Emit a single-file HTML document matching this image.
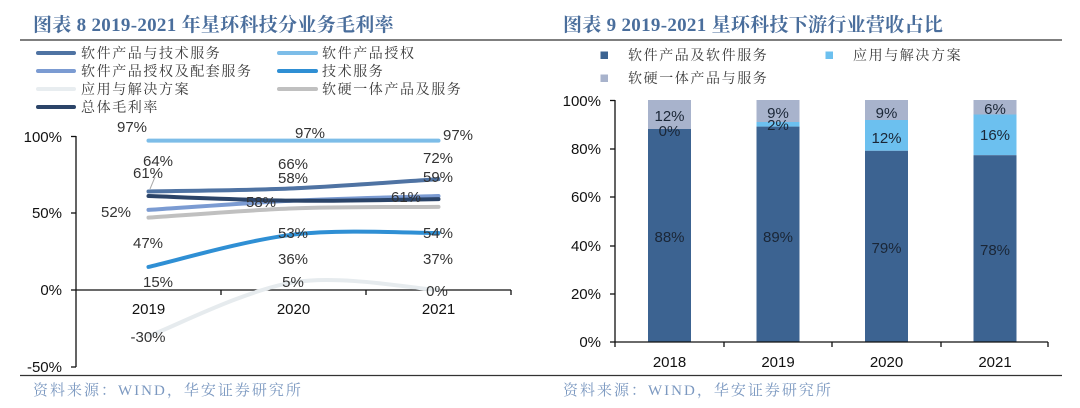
<!DOCTYPE html>
<html><head><meta charset="utf-8">
<style>
html,body{margin:0;padding:0;background:#fff;}
svg{display:block;}
.t{font-family:"Liberation Serif","Noto Serif CJK SC",serif;font-size:19px;font-weight:bold;fill:#4a6e9c;letter-spacing:0.3px;}
.lg{font-family:"Liberation Serif","Noto Serif CJK SC",serif;font-size:14px;fill:#3a3a3a;letter-spacing:1.6px;}
.src{font-family:"Liberation Serif","Noto Serif CJK SC",serif;font-size:15px;fill:#7b98c0;letter-spacing:2px;}
.ax{font-family:"Liberation Sans",Arial,sans-serif;font-size:15px;fill:#111;}
.dl{font-family:"Liberation Sans",Arial,sans-serif;font-size:15px;fill:#333;}
.bl{font-family:"Liberation Sans",Arial,sans-serif;font-size:15px;fill:#1a2636;}
</style></head>
<body>
<svg width="1080" height="408" viewBox="0 0 1080 408" xmlns="http://www.w3.org/2000/svg">
<!-- LEFT PANEL -->
<text class="t" x="33" y="31">图表 8 2019-2021 年星环科技分业务毛利率</text>
<line x1="20" y1="40" x2="540" y2="40" stroke="#555" stroke-width="1.5"/>
<!-- legend -->
<g stroke-width="4" stroke-linecap="round">
<line x1="38" y1="53" x2="74" y2="53" stroke="#4f73a3"/>
<line x1="279" y1="53" x2="316" y2="53" stroke="#7dbde8"/>
<line x1="38" y1="71" x2="74" y2="71" stroke="#7b9bd2"/>
<line x1="279" y1="71" x2="316" y2="71" stroke="#2f8fd4"/>
<line x1="38" y1="89" x2="74" y2="89" stroke="#e8edf0"/>
<line x1="279" y1="89" x2="316" y2="89" stroke="#c0c0c0"/>
<line x1="38" y1="107" x2="74" y2="107" stroke="#2b4468"/>
</g>
<text class="lg" x="81" y="58">软件产品与技术服务</text>
<text class="lg" x="322" y="58">软件产品授权</text>
<text class="lg" x="81" y="76">软件产品授权及配套服务</text>
<text class="lg" x="322" y="76">技术服务</text>
<text class="lg" x="81" y="94">应用与解决方案</text>
<text class="lg" x="322" y="94">软硬一体产品及服务</text>
<text class="lg" x="81" y="112">总体毛利率</text>
<!-- axes -->
<g stroke="#111" stroke-width="1.3">
<line x1="76" y1="136" x2="76" y2="367"/>
<line x1="71" y1="136.5" x2="76" y2="136.5"/>
<line x1="71" y1="213" x2="76" y2="213"/>
<line x1="71" y1="290" x2="76" y2="290"/>
<line x1="71" y1="367" x2="76" y2="367"/>
<line x1="76" y1="290" x2="511" y2="290"/>
<line x1="221" y1="290" x2="221" y2="295"/>
<line x1="366" y1="290" x2="366" y2="295"/>
<line x1="511" y1="290" x2="511" y2="295"/>
</g>
<g class="ax" text-anchor="end">
<text x="62" y="142">100%</text>
<text x="62" y="218">50%</text>
<text x="62" y="295">0%</text>
<text x="62" y="372">-50%</text>
</g>
<g class="ax" text-anchor="middle">
<text x="148.5" y="314">2019</text>
<text x="293.5" y="314">2020</text>
<text x="438.5" y="314">2021</text>
</g>
<!-- series -->
<g fill="none" stroke-width="4" stroke-linecap="round">
<path d="M148.5,191.44 C172.67,190.93 245.17,190.41 293.5,188.36 C341.83,186.31 414.33,180.66 438.5,179.12" stroke="#4f73a3"/>
<path d="M148.5,140.62 L438.5,140.62" stroke="#7dbde8"/>
<path d="M148.5,209.92 C172.67,208.38 245.17,202.99 293.5,200.68 C341.83,198.37 414.33,196.83 438.5,196.06" stroke="#7b9bd2"/>
<path d="M148.5,266.9 C172.67,261.51 245.17,240.21 293.5,234.56 C341.83,228.91 414.33,233.28 438.5,233.02" stroke="#2f8fd4"/>
<path d="M148.5,336.2 C172.67,327.22 245.17,290 293.5,282.3 C341.83,274.6 414.33,288.72 438.5,290" stroke="#e6ebee"/>
<path d="M148.5,217.62 C172.67,216.08 245.17,210.18 293.5,208.38 C341.83,206.58 414.33,207.1 438.5,206.84" stroke="#c0c0c0"/>
<path d="M148.5,196.06 C172.67,196.83 245.17,200.17 293.5,200.68 C341.83,201.19 414.33,199.4 438.5,199.14" stroke="#2b4468"/>
</g>
<line x1="155" y1="177" x2="150" y2="189" stroke="#aaa" stroke-width="1"/>
<!-- data labels -->
<g class="dl" text-anchor="middle">
<text x="132" y="132">97%</text>
<text x="310" y="138">97%</text>
<text x="458" y="140">97%</text>
<text x="158" y="166">64%</text>
<text x="148" y="178">61%</text>
<text x="293" y="169">66%</text>
<text x="293" y="183">58%</text>
<text x="438" y="163">72%</text>
<text x="438" y="182">59%</text>
<text x="116" y="217">52%</text>
<text x="261" y="207">58%</text>
<text x="406" y="202">61%</text>
<text x="148" y="248">47%</text>
<text x="293" y="238">53%</text>
<text x="438" y="238">54%</text>
<text x="293" y="264">36%</text>
<text x="438" y="264">37%</text>
<text x="158" y="287">15%</text>
<text x="293" y="287">5%</text>
<text x="437" y="296">0%</text>
<text x="148" y="342">-30%</text>
</g>
<line x1="20" y1="375.5" x2="540" y2="375.5" stroke="#333" stroke-width="1.3"/>
<text class="src" x="33" y="395">资料来源：WIND，华安证券研究所</text>

<!-- RIGHT PANEL -->
<text class="t" x="563" y="31">图表 9  2019-2021 星环科技下游行业营收占比</text>
<line x1="540" y1="40" x2="1062" y2="40" stroke="#555" stroke-width="1.5"/>
<rect x="600.5" y="51.5" width="7.5" height="7.5" fill="#3c6391"/>
<text class="lg" x="628" y="60">软件产品及软件服务</text>
<rect x="825.5" y="51.5" width="7.5" height="7.5" fill="#6cc0ef"/>
<text class="lg" x="853" y="60">应用与解决方案</text>
<rect x="600.5" y="74.5" width="7.5" height="7.5" fill="#a8b3cc"/>
<text class="lg" x="628" y="83">软硬一体产品与服务</text>
<!-- bars: y(v)=342-2.42v -->
<g>
<rect x="648" y="100" width="43" height="29" fill="#a8b3cc"/>
<rect x="648" y="129" width="43" height="213" fill="#3c6391"/>
<rect x="756.5" y="100" width="43" height="22" fill="#a8b3cc"/>
<rect x="756.5" y="122" width="43" height="4.6" fill="#6cc0ef"/>
<rect x="756.5" y="126.6" width="43" height="215.4" fill="#3c6391"/>
<rect x="865" y="100" width="43" height="20" fill="#a8b3cc"/>
<rect x="865" y="120" width="43" height="30.8" fill="#6cc0ef"/>
<rect x="865" y="150.8" width="43" height="191.2" fill="#3c6391"/>
<rect x="973.5" y="100" width="43" height="14.5" fill="#a8b3cc"/>
<rect x="973.5" y="114.5" width="43" height="40.7" fill="#6cc0ef"/>
<rect x="973.5" y="155.2" width="43" height="186.8" fill="#3c6391"/>
</g>
<g stroke="#111" stroke-width="1.3">
<line x1="615" y1="100" x2="615" y2="342"/>
<line x1="610" y1="100.5" x2="615" y2="100.5"/>
<line x1="610" y1="149" x2="615" y2="149"/>
<line x1="610" y1="197" x2="615" y2="197"/>
<line x1="610" y1="246" x2="615" y2="246"/>
<line x1="610" y1="294" x2="615" y2="294"/>
<line x1="610" y1="342" x2="615" y2="342"/>
<line x1="615" y1="342" x2="1048" y2="342"/>
<line x1="615" y1="342" x2="615" y2="347"/>
<line x1="724" y1="342" x2="724" y2="347"/>
<line x1="832" y1="342" x2="832" y2="347"/>
<line x1="941" y1="342" x2="941" y2="347"/>
<line x1="1048" y1="342" x2="1048" y2="347"/>
</g>
<g class="ax" text-anchor="end">
<text x="601" y="106">100%</text>
<text x="601" y="154">80%</text>
<text x="601" y="202">60%</text>
<text x="601" y="251">40%</text>
<text x="601" y="299">20%</text>
<text x="601" y="347">0%</text>
</g>
<g class="ax" text-anchor="middle">
<text x="669.5" y="367">2018</text>
<text x="778" y="367">2019</text>
<text x="886.5" y="367">2020</text>
<text x="995" y="367">2021</text>
</g>
<g class="bl" text-anchor="middle">
<text x="669.5" y="121">12%</text>
<text x="669.5" y="136">0%</text>
<text x="669.5" y="242">88%</text>
<text x="778" y="118">9%</text>
<text x="778" y="130">2%</text>
<text x="778" y="242">89%</text>
<text x="886.5" y="118">9%</text>
<text x="886.5" y="143">12%</text>
<text x="886.5" y="253">79%</text>
<text x="995" y="114">6%</text>
<text x="995" y="140">16%</text>
<text x="995" y="255">78%</text>
</g>
<line x1="540" y1="375.5" x2="1062" y2="375.5" stroke="#333" stroke-width="1.3"/>
<text class="src" x="563" y="395">资料来源：WIND，华安证券研究所</text>
</svg>
</body></html>
